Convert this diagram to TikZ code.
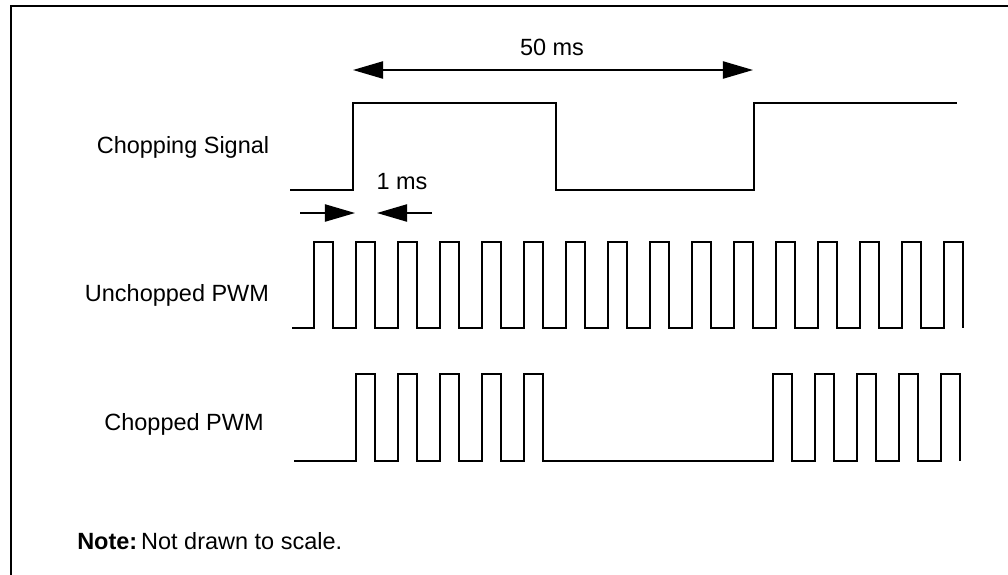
\documentclass[tikz,border=0pt]{standalone}
\usepackage{fontspec}
\setmainfont{Liberation Sans}
\usetikzlibrary{arrows.meta,positioning,calc}
\tikzset{
  wave/.style={line width=1.5pt,draw=black},
  frame/.style={line width=1.3pt,draw=black},
  dim/.style={{Triangle[length=0.75cm,width=0.43cm]}-{Triangle[length=0.75cm,width=0.43cm]},line width=1.1pt},
  tip/.style={-{Triangle[length=0.75cm,width=0.43cm]},line width=1.1pt},
  lab/.style={font=\fontsize{16.7}{20}\selectfont,inner sep=0pt}
}
\begin{document}
\begin{tikzpicture}[x=0.025cm,y=-0.025cm]
  \useasboundingbox (0,0) rectangle (1008,574);
  \draw[frame] (11,580) -- (11,6) -- (1015,6);

  \node[lab] (lchop) at (183,147) {Chopping Signal};
  \node[lab] (lunch) at (177,295) {Unchopped PWM};
  \node[lab] (lpwm) at (184,424) {Chopped PWM};

  % chopping signal
  \draw[wave] (290,190) -| (353,103) -| (556,190) -| (754,103) -- (957,103);
  \coordinate (rise1) at (353,70);
  \coordinate (rise2) at (753,70);
  \draw[dim] (rise1) -- (rise2);
  \node[lab] (t50) at (552,47) {50 ms};

  % unchopped PWM
  \draw[wave] (292,328) \foreach \t in {314,356,...,944}{ -| (\t,242) -| ({\t+19},328) };

  \coordinate (edgeup) at (355,213);
  \coordinate (edgedn) at (377,213);
  \coordinate (tailL) at (300,213);
  \coordinate (tailR) at (432,213);
  \draw[tip] (tailL) -- (edgeup);
  \draw[tip] (tailR) -- (edgedn);
  \node[lab] (t1) at (402,182) {1 ms};

  % chopped PWM
  \draw[wave] (294,461) \foreach \t in {356,398,...,524}{ -| (\t,374) -| ({\t+19},461) }
    \foreach \t in {773,815,...,941}{ -| (\t,374) -| ({\t+19},461) };

  \node[lab,anchor=west] (note) at (77,541) {\textbf{Note:}\,Not drawn to scale.};
\end{tikzpicture}
\end{document}
